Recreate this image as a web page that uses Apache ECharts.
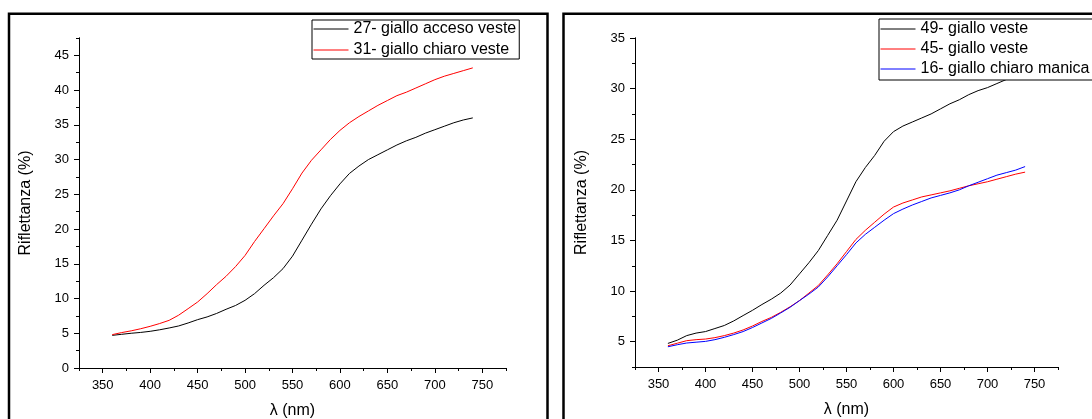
<!DOCTYPE html>
<html>
<head>
<meta charset="utf-8">
<script src="https://cdn.jsdelivr.net/npm/echarts@6/dist/echarts.min.js"></script>
<style>
html,body{margin:0;padding:0;background:#fff;}
#chart{width:1092px;height:419px;}
</style>
</head>
<body>
<div id="chart"></div>
<script>
// ---- data ----
const wavelengths = [360, 370, 380, 390, 400, 410, 420, 430, 440, 450, 460, 470, 480, 490, 500, 510, 520, 530, 540, 550,
                     560, 570, 580, 590, 600, 610, 620, 630, 640, 650, 660, 670, 680, 690, 700, 710, 720, 730, 740];
// left panel
const refl27 = [4.7, 4.85, 5.0, 5.12, 5.28, 5.5, 5.76, 6.05, 6.48, 6.96, 7.35, 7.85, 8.45, 9.0, 9.74, 10.7, 11.9, 13.0, 14.3, 16.1,
                18.4, 20.7, 22.9, 24.8, 26.5, 28.0, 29.07, 30.0, 30.7, 31.4, 32.1, 32.7, 33.2, 33.8, 34.3, 34.8, 35.3, 35.7, 36.0];
const refl31 = [4.8, 5.1, 5.35, 5.65, 6.0, 6.4, 6.86, 7.6, 8.54, 9.5, 10.7, 12.0, 13.2, 14.6, 16.2, 18.2, 20.05, 21.9, 23.65, 25.8,
                28.06, 29.9, 31.4, 32.9, 34.2, 35.3, 36.2, 37.0, 37.8, 38.5, 39.2, 39.7, 40.3, 40.9, 41.5, 42.0, 42.4, 42.8, 43.2];
// right panel
const refl49 = [4.83, 5.15, 5.6, 5.85, 6.0, 6.3, 6.6, 7.05, 7.58, 8.1, 8.67, 9.2, 9.8, 10.6, 11.7, 12.8, 14.0, 15.5, 17.0, 18.9,
                20.8, 22.2, 23.4, 24.8, 25.75, 26.3, 26.7, 27.1, 27.5, 28.0, 28.5, 28.9, 29.4, 29.8, 30.1, 30.5, 30.9, 31.1, 31.3];
const refl45 = [4.6, 4.85, 5.1, 5.2, 5.26, 5.4, 5.6, 5.85, 6.16, 6.55, 7.0, 7.4, 7.9, 8.45, 9.06, 9.8, 10.55, 11.6, 12.7, 13.9,
                15.1, 16.0, 16.8, 17.6, 18.3, 18.7, 19.0, 19.3, 19.5, 19.7, 19.9, 20.15, 20.4, 20.6, 20.8, 21.05, 21.3, 21.55, 21.75];
const refl16 = [4.5, 4.7, 4.87, 4.95, 5.03, 5.2, 5.43, 5.7, 6.0, 6.4, 6.85, 7.3, 7.84, 8.4, 9.06, 9.7, 10.4, 11.4, 12.5, 13.6,
                14.75, 15.6, 16.3, 17.0, 17.65, 18.1, 18.5, 18.85, 19.2, 19.45, 19.7, 20.0, 20.4, 20.75, 21.1, 21.45, 21.7, 21.95, 22.3];

const names = ['27- giallo acceso veste', '31- giallo chiaro veste', '49- giallo veste', '45- giallo veste', '16- giallo chiaro manica'];
const colors = ['#000000', '#ff0000', '#000000', '#ff0000', '#0000ff'];

// tick labels
const xMajorTicks = [350, 400, 450, 500, 550, 600, 650, 700, 750];
const xMinorTicks = [325, 375, 425, 475, 525, 575, 625, 675, 725, 775];
const yLeftMajor = [0, 5, 10, 15, 20, 25, 30, 35, 40, 45];
const yLeftMinor = [2.5, 7.5, 12.5, 17.5, 22.5, 27.5, 32.5, 37.5, 42.5, 47.5];
const yRightMajor = [5, 10, 15, 20, 25, 30, 35];
const yRightMinor = [2.5, 7.5, 12.5, 17.5, 22.5, 27.5, 32.5];

const FONT = 'Liberation Sans, Arial, sans-serif';

function pairs(vals) { return wavelengths.map((w, i) => [w, vals[i]]); }

function xAxes(grid) {
  const base = {
    type: 'value', gridIndex: grid, min: 325, max: 775, position: 'bottom',
    splitLine: { show: false },
    axisLine: { show: true, onZero: false, lineStyle: { color: '#000', width: 1 } }
  };
  return [
    Object.assign({}, base, {
      axisTick: { show: true, inside: false, length: 5, customValues: xMajorTicks, lineStyle: { color: '#000', width: 1 } },
      axisLabel: { show: true, customValues: xMajorTicks, color: '#000', fontSize: 13, fontFamily: FONT, margin: 11 },
      name: 'λ (nm)', nameLocation: 'middle', nameGap: 35,
      nameTextStyle: { color: '#000', fontSize: 16, fontFamily: FONT }
    }),
    Object.assign({}, base, {
      axisTick: { show: true, inside: false, length: 3, customValues: xMinorTicks, lineStyle: { color: '#000', width: 1 } },
      axisLabel: { show: false }
    })
  ];
}

function yAxes(grid, min, max, major, minor) {
  const base = {
    type: 'value', gridIndex: grid, min: min, max: max, position: 'left',
    splitLine: { show: false },
    axisLine: { show: true, onZero: false, lineStyle: { color: '#000', width: 1 } }
  };
  return [
    Object.assign({}, base, {
      axisTick: { show: true, inside: false, length: 5, customValues: major, lineStyle: { color: '#000', width: 1 } },
      axisLabel: { show: true, customValues: major, color: '#000', fontSize: 13, fontFamily: FONT, margin: 10 },
      name: 'Riflettanza (%)', nameLocation: 'middle', nameGap: 45,
      nameTextStyle: { color: '#000', fontSize: 16, fontFamily: FONT }
    }),
    Object.assign({}, base, {
      axisTick: { show: true, inside: false, length: 3, customValues: minor, lineStyle: { color: '#000', width: 1 } },
      axisLabel: { show: false }
    })
  ];
}

function lineSeries(idx, vals, xi, yi) {
  return {
    type: 'line', name: names[idx], data: pairs(vals), xAxisIndex: xi, yAxisIndex: yi,
    showSymbol: false, symbol: 'none', smooth: false, color: colors[idx],
    lineStyle: { color: colors[idx], width: 1 }, itemStyle: { color: colors[idx] },
    emphasis: { disabled: true }, animation: false
  };
}

function legendItems(idxs) {
  return idxs.map(i => ({
    name: names[i],
    itemStyle: { color: colors[i], opacity: 0 },
    lineStyle: { color: colors[i], width: 1, opacity: 1 }
  }));
}

const legendCommon = {
  orient: 'vertical', itemWidth: 35, itemHeight: 12,
  backgroundColor: '#fff', borderColor: '#000', borderWidth: 1, borderRadius: 0,
  selectedMode: false,
  itemStyle: { opacity: 0 },
  lineStyle: { width: 1 },
  textStyle: { color: '#000', fontSize: 16, fontFamily: FONT, lineHeight: 18 }
};

const chart = echarts.init(document.getElementById('chart'), null, { renderer: 'canvas' });
chart.setOption({
  backgroundColor: '#fff',
  animation: false,
  grid: [
    { left: 79, top: 38, width: 427, height: 330, containLabel: false, outerBoundsMode: 'none' },
    { left: 635, top: 38, width: 423, height: 329, containLabel: false, outerBoundsMode: 'none' }
  ],
  xAxis: [].concat(xAxes(0), xAxes(1)),
  yAxis: [].concat(yAxes(0, 0, 47.5, yLeftMajor, yLeftMinor), yAxes(1, 2.5, 35, yRightMajor, yRightMinor)),
  legend: [
    Object.assign({}, legendCommon, { data: legendItems([0, 1]), left: 312, top: 20, itemGap: 3, padding: [0, 3, 0, 1] }),
    Object.assign({}, legendCommon, { data: legendItems([2, 3, 4]), left: 879, top: 19, itemGap: 2, padding: [1, 8, 2, 1] })
  ],
  series: [
    lineSeries(0, refl27, 0, 0),
    lineSeries(1, refl31, 0, 0),
    lineSeries(2, refl49, 2, 2),
    lineSeries(3, refl45, 2, 2),
    lineSeries(4, refl16, 2, 2)
  ],
  graphic: [
    { type: 'rect', silent: true, z: 100, shape: { x: 9, y: 13.7, width: 538.5, height: 500 }, style: { fill: 'none', stroke: '#000', lineWidth: 2.5 } },
    { type: 'rect', silent: true, z: 100, shape: { x: 563.5, y: 13.7, width: 600, height: 500 }, style: { fill: 'none', stroke: '#000', lineWidth: 2.5 } }
  ]
});
</script>
</body>
</html>
